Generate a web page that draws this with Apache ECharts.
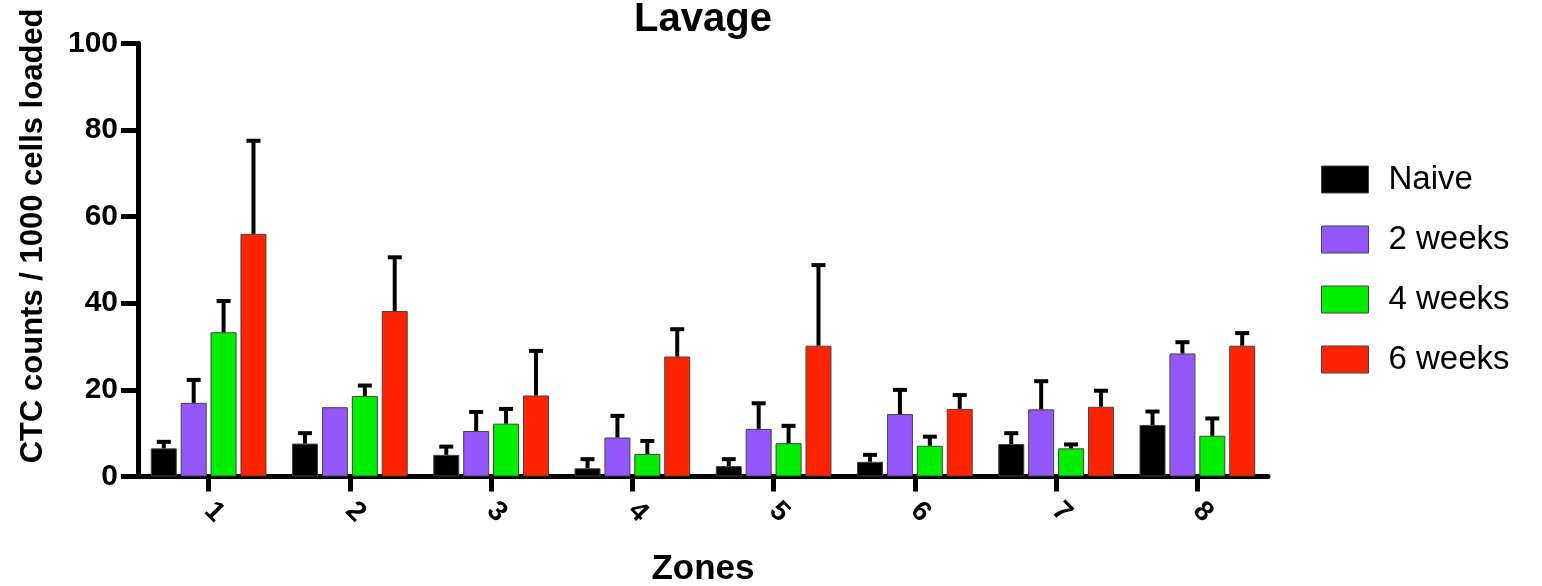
<!DOCTYPE html>
<html>
<head>
<meta charset="utf-8">
<script src="https://cdn.jsdelivr.net/npm/echarts@6/dist/echarts.min.js"></script>
<style>
html,body{margin:0;padding:0;background:#fff;}
#chart{width:1542px;height:586px;}
</style>
</head>
<body>
<div id="chart"></div>
<script>
const zones = ['1','2','3','4','5','6','7','8'];
const seriesNames = ['Naive','2 weeks','4 weeks','6 weeks'];
const naive   = [6.5, 7.6, 5.0, 1.9, 2.4, 3.4, 7.5, 11.9];
const weeks2  = [17.0, 16.0, 10.5, 9.0, 11.0, 14.4, 15.5, 28.4];
const weeks4  = [33.3, 18.6, 12.2, 5.2, 7.7, 7.1, 6.5, 9.4];
const weeks6  = [56.0, 38.2, 18.7, 27.7, 30.2, 15.6, 16.1, 30.2];
const naiveErr  = [8.0, 10.0, 6.9, 4.0, 4.0, 5.0, 10.0, 15.0];
const weeks2Err = [22.3, 16.0, 14.9, 14.0, 16.9, 20.0, 22.0, 31.0];
const weeks4Err = [40.5, 21.0, 15.6, 8.2, 11.7, 9.2, 7.4, 13.4];
const weeks6Err = [77.5, 50.6, 29.0, 34.0, 48.8, 18.8, 19.8, 33.1];
const yTicks = [0, 20, 40, 60, 80, 100];

const colors = ['#000000', '#9457fb', '#00ee00', '#ff2400'];
const means = [naive, weeks2, weeks4, weeks6];
const uppers = [naiveErr, weeks2Err, weeks4Err, weeks6Err];

const FONT = '"Liberation Sans", Arial, Helvetica, sans-serif';
const BAR_W = 26;
const BAR_GAP = 3.9;
const groupW = 4 * BAR_W + 3 * BAR_GAP;

const chart = echarts.init(document.getElementById('chart'), null, {renderer: 'canvas'});

const barSeries = seriesNames.map((name, i) => ({
  name: name,
  type: 'bar',
  data: means[i],
  barWidth: BAR_W,
  barGap: (BAR_GAP / BAR_W * 100) + '%',
  itemStyle: {color: colors[i], borderColor: '#444', borderWidth: 1},
  z: 2
}));

const errSeries = seriesNames.map((name, i) => ({
  type: 'custom',
  name: name + '_err',
  data: zones.map((z, k) => [k, means[i][k], uppers[i][k]]),
  z: 3,
  silent: true,
  renderItem: function (params, api) {
    const base = api.coord([api.value(0), api.value(1)]);
    const top = api.coord([api.value(0), api.value(2)]);
    const x = base[0] - groupW / 2 + i * (BAR_W + BAR_GAP) + BAR_W / 2;
    if (Math.abs(top[1] - base[1]) < 1) return null;
    return {
      type: 'group',
      children: [
        {type: 'line', shape: {x1: x, y1: base[1], x2: x, y2: top[1]}, style: {stroke: '#000', lineWidth: 4}},
        {type: 'line', shape: {x1: x - 7, y1: top[1], x2: x + 7, y2: top[1]}, style: {stroke: '#000', lineWidth: 4}}
      ]
    };
  }
}));

chart.setOption({
  animation: false,
  backgroundColor: '#fff',
  title: {
    text: 'Lavage',
    left: 698,
    textAlign: 'center',
    top: -5,
    textStyle: {fontFamily: FONT, fontWeight: 'bold', fontSize: 40, color: '#000'}
  },
  legend: {
    orient: 'vertical',
    left: 1316,
    top: 158,
    itemWidth: 47,
    itemHeight: 27,
    itemGap: 27,
    data: seriesNames.map((n, i) => ({name: n, icon: 'rect', itemStyle: {color: colors[i], borderColor: '#444', borderWidth: 1}})),
    textStyle: {fontFamily: FONT, fontSize: 33, color: '#000', padding: [0, 0, 0, 15]}
  },
  grid: {left: 138, right: 274, top: 43.3, bottom: 109.5, containLabel: false, outerBoundsMode: 'none'},
  xAxis: {
    type: 'category',
    data: zones,
    name: 'Zones',
    nameLocation: 'middle',
    nameGap: 75,
    nameTextStyle: {fontFamily: FONT, fontWeight: 'bold', fontSize: 35, color: '#000'},
    axisLine: {show: true, lineStyle: {color: '#000', width: 5}},
    axisTick: {show: true, alignWithLabel: true, length: 15, lineStyle: {color: '#000', width: 5}},
    axisLabel: {fontFamily: FONT, fontWeight: 'bold', fontSize: 28, color: '#000', rotate: -45, margin: 30}
  },
  yAxis: {
    type: 'value',
    min: 0,
    max: 100,
    interval: 20,
    name: 'CTC counts / 1000 cells loaded',
    nameLocation: 'middle',
    nameGap: 89,
    nameTextStyle: {fontFamily: FONT, fontWeight: 'bold', fontSize: 31, color: '#000', padding: [0, 0, 0, 48]},
    axisLine: {show: true, lineStyle: {color: '#000', width: 5}},
    axisTick: {show: true, length: 17, lineStyle: {color: '#000', width: 5}},
    splitLine: {show: false},
    axisLabel: {fontFamily: FONT, fontWeight: 'bold', fontSize: 30, color: '#000', margin: 20,
      formatter: function (v) { return yTicks.indexOf(v) >= 0 ? String(v) : ''; }}
  },
  series: barSeries.concat(errSeries)
});
</script>
</body>
</html>
